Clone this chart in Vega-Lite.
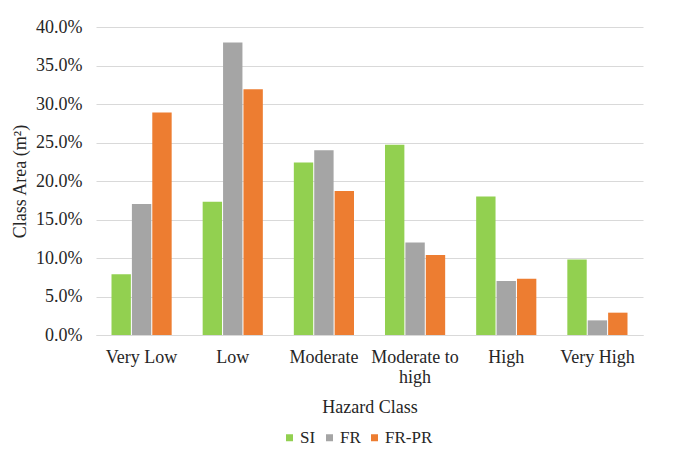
{
  "$schema": "https://vega.github.io/schema/vega-lite/v6.json",
  "autosize": "none",
  "width": 547,
  "height": 308,
  "padding": {"left": 96, "top": 27, "right": 34, "bottom": 122},
  "background": "white",
  "config": {
    "font": "Liberation Serif",
    "view": {"stroke": null},
    "axis": {"labelFont": "Liberation Serif", "titleFont": "Liberation Serif", "labelColor": "#262626", "titleColor": "#262626", "labelFontSize": 18, "titleFontSize": 18, "titleFontWeight": "normal"},
    "legend": {"labelFont": "Liberation Serif", "labelFontSize": 17, "labelColor": "#262626"}
  },
  "data": {
    "values": [
      {"hazard": "Very Low", "series": "SI", "share": 0.079},
      {"hazard": "Very Low", "series": "FR", "share": 0.170},
      {"hazard": "Very Low", "series": "FR-PR", "share": 0.289},
      {"hazard": "Low", "series": "SI", "share": 0.173},
      {"hazard": "Low", "series": "FR", "share": 0.380},
      {"hazard": "Low", "series": "FR-PR", "share": 0.319},
      {"hazard": "Moderate", "series": "SI", "share": 0.224},
      {"hazard": "Moderate", "series": "FR", "share": 0.240},
      {"hazard": "Moderate", "series": "FR-PR", "share": 0.187},
      {"hazard": "Moderate to high", "series": "SI", "share": 0.247},
      {"hazard": "Moderate to high", "series": "FR", "share": 0.120},
      {"hazard": "Moderate to high", "series": "FR-PR", "share": 0.104},
      {"hazard": "High", "series": "SI", "share": 0.180},
      {"hazard": "High", "series": "FR", "share": 0.070},
      {"hazard": "High", "series": "FR-PR", "share": 0.073},
      {"hazard": "Very High", "series": "SI", "share": 0.098},
      {"hazard": "Very High", "series": "FR", "share": 0.019},
      {"hazard": "Very High", "series": "FR-PR", "share": 0.029}
    ]
  },
  "mark": {"type": "bar"},
  "encoding": {
    "x": {
      "field": "hazard",
      "type": "nominal",
      "sort": ["Very Low", "Low", "Moderate", "Moderate to high", "High", "Very High"],
      "scale": {"paddingInner": 0.34, "paddingOuter": 0.17},
      "axis": {
        "title": "Hazard Class",
        "labelAngle": 0,
        "ticks": false,
        "domainColor": "#d9d9d9",
        "domainWidth": 1.2,
        "labelPadding": 13,
        "titlePadding": 12,
        "labelLineHeight": 20,
        "labelExpr": "datum.label == 'Moderate to high' ? ['Moderate to', 'high'] : datum.label"
      }
    },
    "xOffset": {
      "field": "series",
      "type": "nominal",
      "sort": ["SI", "FR", "FR-PR"],
      "scale": {"paddingInner": 0.05}
    },
    "y": {
      "field": "share",
      "type": "quantitative",
      "scale": {"domain": [0, 0.4]},
      "axis": {
        "title": "Class Area (m²)",
        "format": ".1%",
        "values": [0, 0.05, 0.1, 0.15, 0.2, 0.25, 0.3, 0.35, 0.4],
        "labelOverlap": false,
        "domain": false,
        "ticks": false,
        "gridColor": "#d9d9d9",
        "gridWidth": 1.2,
        "labelPadding": 14,
        "titlePadding": 6
      }
    },
    "color": {
      "field": "series",
      "type": "nominal",
      "sort": ["SI", "FR", "FR-PR"],
      "scale": {"domain": ["SI", "FR", "FR-PR"], "range": ["#92d050", "#a5a5a5", "#ed7d31"]},
      "legend": {
        "title": null,
        "orient": "none",
        "direction": "horizontal",
        "legendX": 185,
        "legendY": 402,
        "symbolType": "square",
        "symbolSize": 49,
        "symbolStrokeWidth": 0,
        "labelOffset": 2,
        "columnPadding": 5
      }
    }
  }
}
